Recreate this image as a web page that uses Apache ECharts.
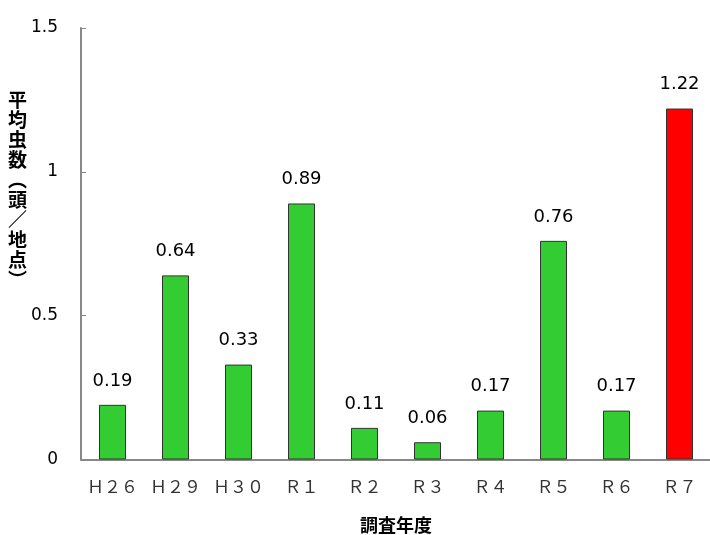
<!DOCTYPE html>
<html>
<head>
<meta charset="utf-8">
<script src="https://cdn.jsdelivr.net/npm/echarts@6/dist/echarts.min.js"></script>
<style>html,body{margin:0;padding:0;background:#fff;overflow:hidden}#c{width:710px;height:535px}</style>
</head>
<body>
<div id="c"></div>
<script>
var categories = ['Ｈ２６','Ｈ２９','Ｈ３０','Ｒ１','Ｒ２','Ｒ３','Ｒ４','Ｒ５','Ｒ６','Ｒ７'];
var values = [0.19, 0.64, 0.33, 0.89, 0.11, 0.06, 0.17, 0.76, 0.17, 1.22];
var barColors = ['#33cc33','#33cc33','#33cc33','#33cc33','#33cc33','#33cc33','#33cc33','#33cc33','#33cc33','#ff0000'];
var yTicks = [0, 0.5, 1, 1.5];
var yAxisTitle = ['平','均','虫','数','︵','頭','／','地','点','︶'];
var xAxisTitle = '調査年度';

var chart = echarts.init(document.getElementById('c'));
var numFont = '"DejaVu Sans", Verdana, sans-serif';
var jpFont = '"Noto Sans CJK JP", sans-serif';
chart.setOption({
  animation: false,
  grid: { left: 81, right: -1, top: 28, bottom: 75.5, containLabel: false, outerBoundsMode: 'none' },
  xAxis: {
    type: 'category',
    data: categories,
    name: xAxisTitle,
    nameLocation: 'middle',
    nameGap: 57,
    nameTextStyle: { fontFamily: jpFont, fontWeight: 'bold', fontSize: 18, color: '#000' },
    axisLine: { lineStyle: { color: '#888', width: 2 } },
    axisTick: { inside: true, length: 5, interval: 0, lineStyle: { color: '#888', width: 1 } },
    axisLabel: { interval: 0, hideOverlap: false, fontFamily: jpFont, fontSize: 17, color: '#333', margin: 19 }
  },
  yAxis: {
    type: 'value',
    min: 0, max: 1.5, interval: 0.5,
    splitLine: { show: false },
    axisLine: { show: true, lineStyle: { color: '#888', width: 2 } },
    axisTick: { show: true, inside: true, length: 5, lineStyle: { color: '#888', width: 1 } },
    axisLabel: {
      fontFamily: numFont, fontSize: 17, color: '#000', margin: 23,
      formatter: function (v) { return yTicks.indexOf(v) >= 0 ? String(v) : ''; }
    }
  },
  graphic: [{
    type: 'text',
    left: 8, top: 90,
    style: {
      text: yAxisTitle.join('\n'),
      fontFamily: jpFont, fontWeight: 'bold', fontSize: 19, lineHeight: 20,
      fill: '#000', align: 'center'
    }
  }],
  series: [{
    type: 'bar',
    barWidth: 27,
    data: values.map(function (v, i) {
      return { value: v, itemStyle: { color: barColors[i] } };
    }),
    itemStyle: { borderColor: '#333', borderWidth: 1 },
    label: {
      show: true, position: 'top', distance: 15,
      fontFamily: numFont, fontSize: 18, color: '#000',
      formatter: function (p) { return p.value.toFixed(2); }
    }
  }]
});
</script>
</body>
</html>
